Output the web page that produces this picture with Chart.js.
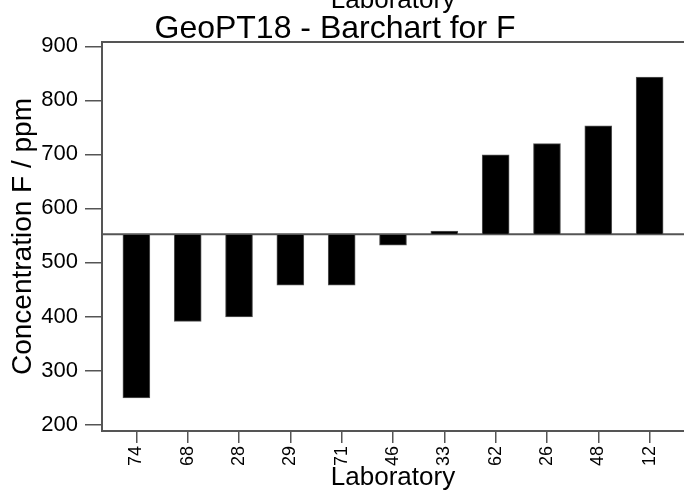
<!DOCTYPE html>
<html>
<head>
<meta charset="utf-8">
<script src="https://cdn.jsdelivr.net/npm/chart.js@4"></script>
<style>
  html, body { margin: 0; padding: 0; background: #fff; }
  #wrap { width: 684px; height: 495px; position: relative; }
</style>
</head>
<body>
<div id="wrap"><canvas id="chart"></canvas></div>
<script>
  // data
  var labs = ["74", "68", "28", "29", "71", "46", "33", "62", "26", "48", "12"];
  var conc = [249, 391, 399, 458, 458, 532, 558, 699, 720, 753, 843];
  var assigned = 552;
  var yTicks = [200, 300, 400, 500, 600, 700, 800, 900];

  var FONT = "'Liberation Sans', Arial, sans-serif";
  var AXIS = "#555";
  var xMin = 0.33, xMax = 11.67;

  var textPlugin = {
    id: "texts",
    afterDraw: function (chart) {
      var ctx = chart.ctx;
      var area = chart.chartArea;
      var cx = (area.left + area.right) / 2;
      ctx.save();
      // top frame line
      ctx.strokeStyle = AXIS;
      ctx.lineWidth = 2;
      ctx.beginPath();
      ctx.moveTo(area.left, area.top);
      ctx.lineTo(area.right, area.top);
      ctx.stroke();

      ctx.fillStyle = "#000";
      ctx.textAlign = "center";
      ctx.textBaseline = "alphabetic";
      // cut-off label above the title
      ctx.font = "26px " + FONT;
      ctx.fillText("Laboratory", cx, 8);
      // x axis title
      ctx.fillText("Laboratory", cx, 485);
      // title
      ctx.font = "32px " + FONT;
      ctx.fillText("GeoPT18 - Barchart for F", 335, 38);
      // y axis title
      ctx.translate(31, (area.top + area.bottom) / 2);
      ctx.rotate(-Math.PI / 2);
      ctx.font = "28px " + FONT;
      ctx.fillText("Concentration F / ppm", 0, 0);
      ctx.restore();
    }
  };

  new Chart(document.getElementById("chart"), {
    type: "bar",
    data: {
      datasets: [
        {
          type: "bar",
          data: labs.map(function (l, i) { return { x: i + 1, y: [assigned, conc[i]] }; }),
          backgroundColor: "#000",
          borderColor: AXIS,
          borderWidth: 1,
          borderSkipped: false,
          barThickness: 27
        },
        {
          type: "line",
          data: [{ x: xMin, y: assigned }, { x: xMax, y: assigned }],
          borderColor: AXIS,
          borderWidth: 2,
          pointRadius: 0,
          fill: false
        }
      ]
    },
    options: {
      responsive: true,
      maintainAspectRatio: false,
      animation: false,
      layout: { padding: { top: 42, right: 0, left: 0, bottom: 0 } },
      plugins: {
        legend: { display: false },
        tooltip: { enabled: false },
        title: { display: false }
      },
      scales: {
        x: {
          type: "linear",
          offset: false,
          min: xMin,
          max: xMax,
          afterBuildTicks: function (scale) {
            scale.ticks = labs.map(function (l, i) { return { value: i + 1 }; });
          },
          afterFit: function (scale) { scale.height = 64; },
          ticks: {
            autoSkip: false,
            minRotation: 90,
            maxRotation: 90,
            padding: 3,
            color: "#000",
            font: { family: FONT, size: 18 },
            callback: function (v) { return labs[v - 1]; }
          },
          grid: { offset: false, drawOnChartArea: false, drawTicks: true, tickLength: 12, color: AXIS, lineWidth: 1.5 },
          border: { color: AXIS, width: 2 }
        },
        y: {
          type: "linear",
          min: 188,
          max: 908,
          afterBuildTicks: function (scale) {
            scale.ticks = yTicks.map(function (v) { return { value: v }; });
          },
          afterFit: function (scale) { scale.width = 102; },
          ticks: {
            padding: 7,
            color: "#000",
            font: { family: FONT, size: 22 }
          },
          grid: { drawOnChartArea: false, drawTicks: true, tickLength: 17, color: AXIS, lineWidth: 1.5 },
          border: { color: AXIS, width: 2 }
        }
      }
    },
    plugins: [textPlugin]
  });
</script>
</body>
</html>
